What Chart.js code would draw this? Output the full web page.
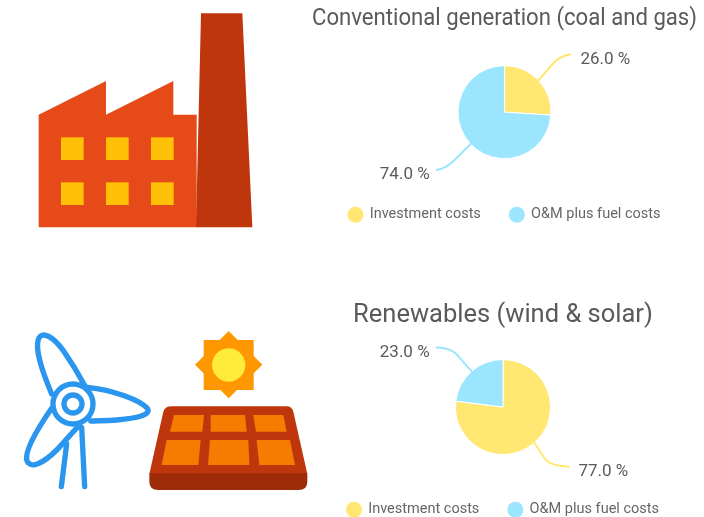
<!DOCTYPE html>
<html><head><meta charset="utf-8">
<script src="https://cdn.jsdelivr.net/npm/chart.js@4"></script>
<style>
html,body{margin:0;padding:0;background:#fff;overflow:hidden}
body{width:704px;height:517px;position:relative}
.c{position:absolute}
svg{position:absolute;display:block}
</style></head><body>
<svg style="left:0;top:0" width="300" height="250" viewBox="0 0 900 750">
<polygon fill="#E64A19" points="116,682 116,344 318,243 318,344 520,243 520,344 590,344 590,682"/>
<polygon fill="#BF360C" points="603,40 727,40 757,682 588,682"/>
<g fill="#FFC107">
<rect x="183" y="412" width="68" height="68"/><rect x="318" y="412" width="68" height="68"/><rect x="453" y="412" width="68" height="68"/>
<rect x="183" y="547" width="68" height="68"/><rect x="318" y="547" width="68" height="68"/><rect x="453" y="547" width="68" height="68"/>
</g></svg>
<svg style="left:0;top:320" width="320" height="197" viewBox="0 0 960 591">
<g fill="none" stroke="#2B96EE" stroke-width="16" stroke-linecap="round" stroke-linejoin="round">
<circle cx="219" cy="252" r="60"/><circle cx="219" cy="252" r="27"/>
<path d="M155 222 C125 150 105 90 115 58 C125 30 160 50 190 92 C220 135 240 170 255 198"/>
<path d="M262 202 C340 210 420 240 442 265 C455 285 410 295 350 300 C320 302 295 302 272 303"/>
<path d="M155 265 C110 330 75 390 80 420 C90 450 130 430 170 390 C190 370 210 345 232 322"/>
<path d="M200 372 L184 500 M245 322 L254 500"/>
</g>
<polygon fill="#FF9800" points="611,60 761,60 761,210 611,210"/>
<polygon fill="#FF9800" points="686,33 787,134 686,235 585,134"/>
<circle cx="686" cy="135" r="50" fill="#FFEB3B"/>
<path fill="#BF360C" d="M515 259 H860 Q875 259 880 275 L922 462 H448 L490 275 Q495 259 515 259 Z"/>
<path fill="#9E2B08" d="M448 460 H922 V485 Q922 510 895 510 H475 Q448 510 448 485 Z"/>
<g fill="#F57C00">
<polygon points="522,285 612,285 607,335 510,335"/><polygon points="632,285 735,285 740,335 632,335"/><polygon points="760,285 850,285 860,335 768,335"/>
<polygon points="500,360 602,360 595,435 485,435"/><polygon points="630,360 745,360 748,435 624,435"/><polygon points="770,360 870,360 885,435 778,435"/>
</g></svg>
<div class="c" style="left:312px;top:0;width:385px;height:232px"><canvas id="a"></canvas></div>
<div class="c" style="left:303px;top:290px;width:400px;height:237px"><canvas id="b"></canvas></div>
<script>
const categories = ["Investment costs", "O&M plus fuel costs"];
const conventionalValues = [26, 74];
const renewableValues = [77, 23];
const sliceColors = ["#FFE772", "#9BE5FF"];
const conventionalTitle = "Conventional generation (coal and gas)";
const renewableTitle = "Renewables (wind & solar)";

const leaderPlugin = {
  id: "leaders",
  afterDatasetsDraw(chart, args, opts) {
    const ctx = chart.ctx, meta = chart.getDatasetMeta(0);
    meta.data.forEach((arc, i) => {
      const l = opts.layout[i];
      const a = (arc.startAngle + arc.endAngle) / 2;
      const sx = arc.x + arc.outerRadius * Math.cos(a), sy = arc.y + arc.outerRadius * Math.sin(a);
      const bx = sx + l.bend[0], by = sy + l.bend[1];
      const ex = sx + l.end[0], ey = sy + l.end[1];
      ctx.save();
      ctx.strokeStyle = sliceColors[i];
      ctx.lineWidth = 2;
      ctx.lineCap = "round";
      ctx.beginPath();
      ctx.moveTo(sx, sy);
      ctx.lineTo(sx + l.bend[0] * 0.7, sy + l.bend[1] * 0.7);
      ctx.quadraticCurveTo(bx, by, ex, ey);
      ctx.stroke();
      ctx.fillStyle = "#5a5a5a";
      ctx.font = "400 17px Roboto";
      ctx.textBaseline = "middle";
      ctx.textAlign = l.end[0] > 0 ? "left" : "right";
      ctx.fillText(chart.data.datasets[0].data[i].toFixed(1) + " %", ex + (l.end[0] > 0 ? 10 : -7), ey + 5);
      ctx.restore();
    });
  }
};

function makePie(id, values, title, titleSize, titlePadding, radius, layout) {
  new Chart(document.getElementById(id), {
    type: "pie",
    plugins: [leaderPlugin],
    data: { labels: categories, datasets: [{ data: values, backgroundColor: sliceColors, borderColor: "#fff", borderWidth: 1, radius: radius }] },
    options: {
      responsive: true, maintainAspectRatio: false, animation: false,
      layout: { padding: 0 },
      plugins: {
        tooltip: { enabled: false },
        title: { display: true, text: title, color: "#5a5a5a", font: { family: "Roboto", size: titleSize, weight: "400" }, padding: titlePadding },
        legend: { position: "bottom", labels: { usePointStyle: true, pointStyle: "circle", boxWidth: 14, boxHeight: 12, padding: 29, color: "#666", font: { family: "Roboto", size: 14.5 } } },
        leaders: { layout: layout }
      }
    }
  });
}

makePie("a", conventionalValues, conventionalTitle, 24, { top: 5, bottom: 12 }, 46.5, [
  { bend: [21, -24], end: [32, -26] },
  { bend: [-24, 24], end: [-34, 26] }
]);
makePie("b", renewableValues, renewableTitle, 25.5, { top: 10, bottom: 10 }, 47.5, [
  { bend: [15, 23], end: [34, 24] },
  { bend: [-21, -24], end: [-35, -24] }
]);
</script>
</body></html>
